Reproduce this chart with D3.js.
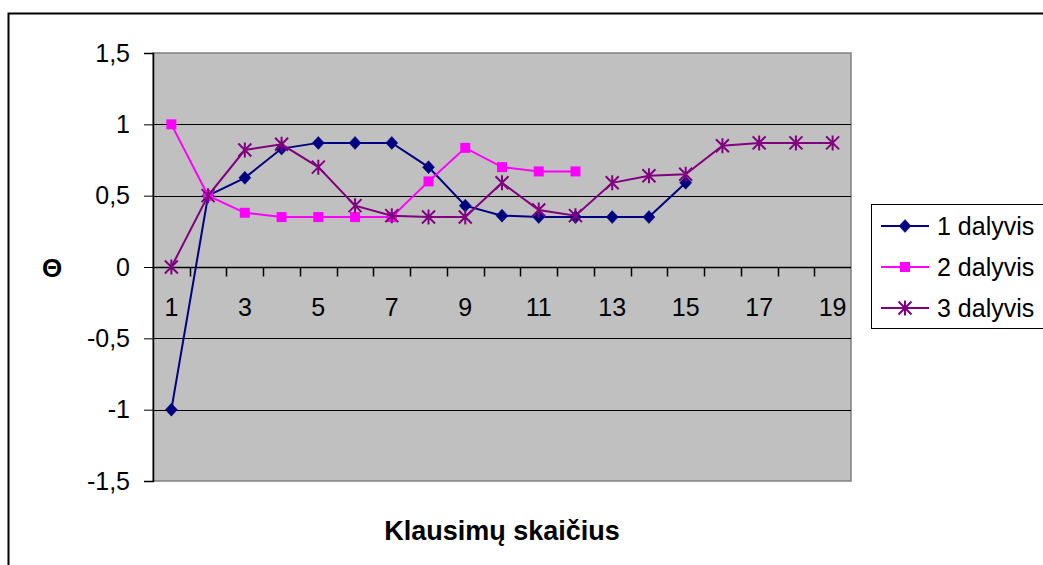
<!DOCTYPE html>
<html>
<head>
<meta charset="utf-8">
<script src="https://cdn.jsdelivr.net/npm/d3@7/dist/d3.min.js"></script>
<style>
  html, body { margin: 0; padding: 0; background: #fff; }
  svg { display: block; font-family: "Liberation Sans", Arial, sans-serif; }
</style>
</head>
<body>
<svg id="chart" width="1043" height="565"></svg>
<script>
// Question number (1..19)
const categories = d3.range(1, 20);
const xTickLabels = [1, 3, 5, 7, 9, 11, 13, 15, 17, 19];
const yTicks = [-1.5, -1, -0.5, 0, 0.5, 1, 1.5];

const seriesNames = ["1 dalyvis", "2 dalyvis", "3 dalyvis"];
const series1 = [-1, 0.5, 0.625, 0.83, 0.87, 0.87, 0.87, 0.7, 0.43, 0.36, 0.35, 0.35, 0.35, 0.35, 0.59, null, null, null, null];
const series2 = [1, 0.5, 0.38, 0.35, 0.35, 0.35, 0.35, 0.6, 0.835, 0.7, 0.67, 0.67, null, null, null, null, null, null, null];
const series3 = [0, 0.5, 0.82, 0.86, 0.7, 0.43, 0.36, 0.35, 0.35, 0.59, 0.4, 0.36, 0.59, 0.64, 0.65, 0.85, 0.87, 0.87, 0.87];

const seriesColors = ["#000080", "#FF00FF", "#800080"];
const seriesMarkers = ["diamond", "square", "star"];
const allSeries = [series1, series2, series3];

const svg = d3.select("#chart");
const plot = { left: 153, top: 53, right: 851, bottom: 481 };
const labelSize = 25;

// Outer chart frame
svg.append("rect")
  .attr("x", 8.5).attr("y", 13.5)
  .attr("width", 1100).attr("height", 600)
  .attr("fill", "#fff").attr("stroke", "#000").attr("stroke-width", 2);

const x = d3.scaleBand().domain(categories).range([plot.left, plot.right]).padding(0);
const y = d3.scaleLinear().domain([-1.5, 1.5]).range([plot.bottom, plot.top]);

// Plot area background
svg.append("rect")
  .attr("x", plot.left).attr("y", plot.top)
  .attr("width", plot.right - plot.left).attr("height", plot.bottom - plot.top)
  .attr("fill", "#C0C0C0").attr("stroke", "#808080").attr("stroke-width", 1.5);

// Horizontal gridlines
svg.append("g").selectAll("line")
  .data(yTicks.filter(v => v !== 1.5 && v !== -1.5 && v !== 0))
  .join("line")
  .attr("x1", plot.left).attr("x2", plot.right)
  .attr("y1", d => Math.round(y(d)) + 0.5).attr("y2", d => Math.round(y(d)) + 0.5)
  .attr("stroke", "#000").attr("stroke-width", 1);

// Y axis
const yAxis = d3.axisLeft(y)
  .tickValues(yTicks)
  .tickSize(9)
  .tickPadding(14)
  .tickFormat(d => String(d).replace(".", ","));
const gy = svg.append("g").attr("transform", `translate(${plot.left},0)`).call(yAxis);
gy.select(".domain").attr("stroke", "#000").attr("stroke-width", 1.5);
gy.selectAll(".tick line").attr("stroke", "#000");
gy.selectAll(".tick text")
  .attr("font-size", labelSize).attr("fill", "#000")
  .attr("font-family", "'Liberation Sans', Arial, sans-serif");

// X axis crossing at zero, ticks between categories
const y0 = Math.round(y(0)) + 0.5;
svg.append("line")
  .attr("x1", plot.left).attr("x2", plot.right)
  .attr("y1", y0).attr("y2", y0)
  .attr("stroke", "#000").attr("stroke-width", 1.5);
svg.append("g").selectAll("line")
  .data(categories.slice(1))
  .join("line")
  .attr("x1", d => Math.round(x(d)) + 0.5).attr("x2", d => Math.round(x(d)) + 0.5)
  .attr("y1", y0).attr("y2", y0 + 9)
  .attr("stroke", "#000").attr("stroke-width", 1.5);
svg.append("line")
  .attr("x1", plot.left - 9).attr("x2", plot.left)
  .attr("y1", y0).attr("y2", y0).attr("stroke", "#000");
svg.append("g").selectAll("text")
  .data(xTickLabels)
  .join("text")
  .attr("x", d => x(d) + x.bandwidth() / 2)
  .attr("y", y0 + 48)
  .attr("text-anchor", "middle")
  .attr("font-size", labelSize)
  .text(d => d);

// Series lines and markers
const line = d3.line()
  .defined(d => d.v !== null)
  .x(d => x(d.c) + x.bandwidth() / 2)
  .y(d => y(d.v));

function drawMarker(g, type, color, cx, cy) {
  if (type === "diamond") {
    g.append("path")
      .attr("d", `M${cx},${cy - 6.5}L${cx + 6},${cy}L${cx},${cy + 6.5}L${cx - 6},${cy}Z`)
      .attr("fill", color).attr("stroke", color).attr("stroke-width", 0.5);
  } else if (type === "square") {
    g.append("rect")
      .attr("x", cx - 5).attr("y", cy - 5).attr("width", 10).attr("height", 10)
      .attr("fill", color);
  } else {
    const r = 6.5;
    g.append("path")
      .attr("d", `M${cx - r},${cy - r}L${cx + r},${cy + r}M${cx - r},${cy + r}L${cx + r},${cy - r}M${cx},${cy - r - 1}L${cx},${cy + r + 1}`)
      .attr("stroke", color).attr("stroke-width", 2).attr("fill", "none");
  }
}

allSeries.forEach((vals, i) => {
  const data = categories.map((c, j) => ({ c, v: vals[j] }));
  const g = svg.append("g");
  g.append("path")
    .datum(data)
    .attr("d", line)
    .attr("fill", "none")
    .attr("stroke", seriesColors[i])
    .attr("stroke-width", 2);
  data.filter(d => d.v !== null).forEach(d => {
    drawMarker(g, seriesMarkers[i], seriesColors[i], x(d.c) + x.bandwidth() / 2, y(d.v));
  });
});

// Axis titles
svg.append("text")
  .attr("x", plot.left + (plot.right - plot.left) / 2)
  .attr("y", 540)
  .attr("text-anchor", "middle")
  .attr("font-size", 27).attr("font-weight", "bold")
  .text("Klausimų skaičius");
svg.append("text")
  .attr("x", 52).attr("y", y0 + 9)
  .attr("text-anchor", "middle")
  .attr("font-size", 26).attr("font-weight", "bold")
  .text("Θ");

// Legend
const lg = svg.append("g");
lg.append("rect")
  .attr("x", 871.5).attr("y", 204.5)
  .attr("width", 200).attr("height", 124)
  .attr("fill", "#fff").attr("stroke", "#000").attr("stroke-width", 1);
seriesNames.forEach((name, i) => {
  const cy = 226 + i * 41;
  lg.append("line")
    .attr("x1", 881).attr("x2", 929).attr("y1", cy).attr("y2", cy)
    .attr("stroke", seriesColors[i]).attr("stroke-width", 2);
  drawMarker(lg, seriesMarkers[i], seriesColors[i], 905, cy);
  lg.append("text")
    .attr("x", 937).attr("y", cy + 9)
    .attr("font-size", labelSize)
    .text(name);
});
</script>
</body>
</html>
